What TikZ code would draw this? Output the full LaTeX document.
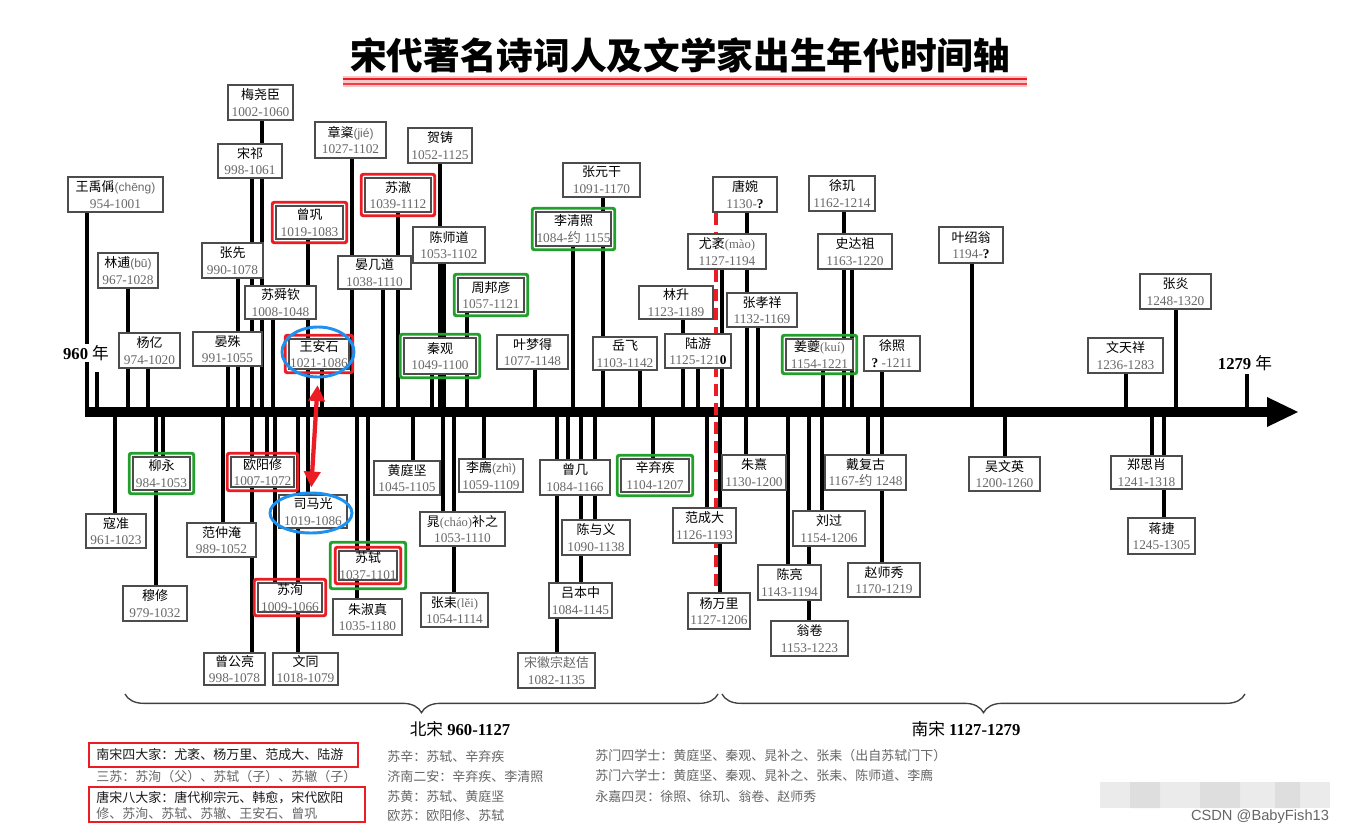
\documentclass[tikz,border=0pt]{standalone}
\usepackage{fontspec}
\setmainfont{Liberation Serif}
\newfontfamily\zhf{Noto Sans CJK SC}
\newfontfamily\sansf{Liberation Sans}
\usetikzlibrary{arrows.meta,shapes.geometric,decorations.pathreplacing}
\definecolor{fr}{RGB}{236,28,36}
\definecolor{fg}{RGB}{34,160,44}
\definecolor{fb}{RGB}{30,144,240}
\definecolor{dg}{RGB}{105,105,105}
\newcommand\zh[1]{{\zhf #1}}
\newcommand\dt[1]{{\rmfamily\fontsize{10}{12}\selectfont\color{dg}#1}}
\newcommand\py[1]{{\sansf\fontsize{9}{12}\selectfont\color{dg}#1}}
\newcommand\pys[1]{{\rmfamily\fontsize{9.5}{12}\selectfont\color{dg}#1}}
\newcommand\qm{{\bfseries\color{black}?}}
\newcommand\pbx[6]{\node[pbox, minimum width={(#4-#2)*0.75pt}, minimum height={(#5-#3)*0.75pt}] (#1) at ({(#2+#4)/2},{(#3+#5)/2}) {#6};}
\newcommand\stm[3]{\draw[stemline] (#1,#2) -- (#1,#3);}
\newcommand\frm[3]{\draw[#2] ([shift={(-#3,-#3)}]#1.north west) rectangle ([shift={(#3,#3)}]#1.south east);}
\tikzset{
  pbox/.style={draw=black!70, line width=1.1pt, fill=white, inner sep=0pt, align=center, font=\zhf\fontsize{9.75}{12.5}\selectfont},
  stemline/.style={line width=2.7pt, black},
  redframe/.style={draw=fr, line width=2.2pt, rounded corners=1.5pt},
  greenframe/.style={draw=fg, line width=2.2pt, rounded corners=1.5pt},
  blueell/.style={draw=fb, line width=2.2pt, ellipse, inner sep=0pt},
  redarr/.style={draw=fr, line width=3.2pt, {Triangle[width=12pt,length=12pt]}-{Triangle[width=12pt,length=12pt]}, shorten <=5pt, shorten >=3pt},
  legtxt/.style={anchor=west, inner sep=0pt, text=black!60, font=\zhf\fontsize{9.75}{12}\selectfont},
  legdark/.style={legtxt, text=black!90},
  bracestyle/.style={draw=black!75, line width=1pt, decorate, decoration={brace, mirror, amplitude=14pt}},
}
\begin{document}
\begin{tikzpicture}[x=0.75pt,y=-0.75pt]
\fill[white] (0,0) rectangle (1346,835);
\useasboundingbox (0,0) rectangle (1346,835);
% title
\fill[fr!25] (343,76) rectangle (1027,87);
\draw[fr, line width=1.6pt] (343,79) -- (1027,79);
\draw[fr!85, line width=1.6pt] (343,84) -- (1027,84);
\node (title) at (680,55) {\zhf\bfseries\fontsize{27.5}{30}\selectfont 宋代著名诗词人及文学家出生年代时间轴};
% stems above axis
\stm{87}{212}{412} \stm{128}{288}{412} \stm{148}{368}{412} \stm{97}{372}{412}
\stm{262}{120}{412} \stm{252}{178}{412} \stm{238}{278}{412} \stm{273}{319}{412}
\stm{228}{366}{412} \stm{308}{239}{412} \stm{322}{369}{412} \stm{352}{158}{412}
\stm{383}{289}{412} \stm{398}{212}{412} \stm{440}{163}{412} \stm{444}{263}{412}
\stm{432}{374}{412} \stm{467}{312}{412} \stm{535}{369}{412} \stm{573}{246}{412}
\stm{603}{197}{412} \stm{640}{370}{412} \stm{683}{319}{412} \stm{698}{368}{412}
\stm{722}{269}{412} \stm{747}{212}{412} \stm{758}{327}{412} \stm{823}{370}{412}
\stm{844}{211}{412} \stm{852}{269}{412} \stm{882}{371}{412} \stm{972}{263}{412}
\stm{1126}{373}{412} \stm{1176}{309}{412} \stm{1247}{374}{412}
% stems below axis
\stm{115}{412}{514} \stm{163}{412}{457} \stm{156}{412}{586} \stm{223}{412}{523}
\stm{267}{412}{457} \stm{252}{412}{653} \stm{275}{412}{583} \stm{308}{412}{495}
\stm{298}{412}{653} \stm{368}{412}{551} \stm{357}{412}{599} \stm{413}{412}{461}
\stm{443}{412}{512} \stm{454}{412}{593} \stm{484}{412}{459} \stm{568}{412}{460}
\stm{557}{412}{653} \stm{581}{412}{583} \stm{595}{412}{520} \stm{653}{412}{459}
\stm{707}{412}{508} \stm{720}{412}{593} \stm{746}{412}{455} \stm{788}{412}{565}
\stm{822}{412}{511} \stm{809}{412}{621} \stm{868}{412}{455} \stm{882}{412}{563}
\stm{1005}{412}{457} \stm{1152}{412}{456} \stm{1164}{412}{518}
% axis
\coordinate (axL) at (85,412);
\coordinate (axR) at (1298,412);
\draw[line width=7.5pt] (axL) -- (1270,412);
\fill (1267,397) -- (axR) -- (1267,427) -- cycle;
% dashed divider
\draw[fr, line width=2.6pt, dash pattern=on 9pt off 5.25pt] (716,213) -- (716,597);
% boxes above
\pbx{wyc}{68}{177}{163}{212}{王禹偁\py{(chēng)}\\\dt{954-1001}}
\pbx{lb}{98}{253}{158}{288}{林逋\py{(bū)}\\\dt{967-1028}}
\pbx{yy}{119}{333}{180}{368}{杨亿\\\dt{974-1020}}
\pbx{myc}{228}{85}{293}{120}{梅尧臣\\\dt{1002-1060}}
\pbx{sq}{218}{144}{282}{178}{宋祁\\\dt{998-1061}}
\pbx{zx}{202}{243}{263}{278}{张先\\\dt{990-1078}}
\pbx{ssq}{245}{286}{316}{319}{苏舜钦\\\dt{1008-1048}}
\pbx{ys}{193}{332}{262}{366}{晏殊\\\dt{991-1055}}
\pbx{zg}{276}{206}{343}{239}{曾巩\\\dt{1019-1083}}
\pbx{was}{289}{339}{349}{369}{王安石\\\dt{1021-1086}}
\pbx{zj}{315}{122}{386}{158}{章楶\py{(jié)}\\\dt{1027-1102}}
\pbx{yjd}{338}{256}{411}{289}{晏几道\\\dt{1038-1110}}
\pbx{sz}{365}{178}{431}{212}{苏澈\\\dt{1039-1112}}
\pbx{hz}{408}{128}{472}{163}{贺铸\\\dt{1052-1125}}
\pbx{csd}{413}{227}{485}{263}{陈师道\\\dt{1053-1102}}
\pbx{qg}{404}{338}{476}{374}{秦观\\\dt{1049-1100}}
\pbx{zby}{458}{278}{524}{312}{周邦彦\\\dt{1057-1121}}
\pbx{ymd}{497}{335}{568}{369}{叶梦得\\\dt{1077-1148}}
\pbx{lqz}{536}{212}{611}{246}{李清照\\\dt{1084-\zh{约} 1155}}
\pbx{zyg}{563}{163}{640}{197}{张元干\\\dt{1091-1170}}
\pbx{yf}{593}{337}{657}{370}{岳飞\\\dt{1103-1142}}
\pbx{ls}{639}{286}{713}{319}{林升\\\dt{1123-1189}}
\pbx{ly}{665}{334}{731}{368}{陆游\\\dt{1125-121{\bfseries\color{black}0}}}
\pbx{ym}{688}{234}{766}{269}{尤袤\pys{(mào)}\\\dt{1127-1194}}
\pbx{tw}{713}{177}{777}{212}{唐婉\\\dt{1130-\qm}}
\pbx{zxx}{727}{293}{797}{327}{张孝祥\\\dt{1132-1169}}
\pbx{jk}{786}{339}{853}{370}{姜夔\pys{(kuí)}\\\dt{1154-1221}}
\pbx{xj}{809}{176}{875}{211}{徐玑\\\dt{1162-1214}}
\pbx{sdz}{818}{234}{892}{269}{史达祖\\\dt{1163-1220}}
\pbx{xz}{864}{336}{920}{371}{徐照\\\dt{\qm\ -1211}}
\pbx{ysw}{939}{227}{1003}{263}{叶绍翁\\\dt{1194-\qm}}
\pbx{wtx}{1088}{338}{1163}{373}{文天祥\\\dt{1236-1283}}
\pbx{zy}{1140}{274}{1211}{309}{张炎\\\dt{1248-1320}}
% boxes below
\pbx{kz}{86}{514}{146}{548}{寇准\\\dt{961-1023}}
\pbx{liuy}{133}{457}{190}{490}{柳永\\\dt{984-1053}}
\pbx{mx}{123}{586}{187}{621}{穆修\\\dt{979-1032}}
\pbx{fzy}{187}{523}{256}{557}{范仲淹\\\dt{989-1052}}
\pbx{oyx}{231}{457}{294}{487}{欧阳修\\\dt{1007-1072}}
\pbx{zgl}{204}{653}{265}{685}{曾公亮\\\dt{998-1078}}
\pbx{sx}{258}{583}{322}{612}{苏洵\\\dt{1009-1066}}
\pbx{smg}{279}{495}{347}{528}{司马光\\\dt{1019-1086}}
\pbx{wt}{273}{653}{338}{685}{文同\\\dt{1018-1079}}
\pbx{ss}{339}{551}{397}{580}{苏轼\\\dt{1037-1101}}
\pbx{zsz}{333}{599}{402}{635}{朱淑真\\\dt{1035-1180}}
\pbx{htj}{374}{461}{440}{495}{黄庭坚\\\dt{1045-1105}}
\pbx{cbz}{420}{512}{505}{546}{晁\pys{(cháo)}补之\\\dt{1053-1110}}
\pbx{zl}{421}{593}{488}{627}{张耒\pys{(lěi)}\\\dt{1054-1114}}
\pbx{lz}{459}{459}{523}{492}{李廌\py{(zhì)}\\\dt{1059-1109}}
\pbx{zjj}{540}{460}{610}{495}{曾几\\\dt{1084-1166}}
\pbx{hzz}{518}{653}{595}{688}{{\color{dg}宋徽宗赵佶}\\\dt{1082-1135}}
\pbx{lbz}{549}{583}{612}{618}{吕本中\\\dt{1084-1145}}
\pbx{cyy}{562}{520}{630}{555}{陈与义\\\dt{1090-1138}}
\pbx{xqj}{621}{459}{689}{492}{辛弃疾\\\dt{1104-1207}}
\pbx{fcd}{673}{508}{736}{543}{范成大\\\dt{1126-1193}}
\pbx{ywl}{688}{593}{750}{629}{杨万里\\\dt{1127-1206}}
\pbx{zhx}{722}{455}{786}{490}{朱熹\\\dt{1130-1200}}
\pbx{cl}{758}{565}{821}{600}{陈亮\\\dt{1143-1194}}
\pbx{lg}{793}{511}{865}{546}{刘过\\\dt{1154-1206}}
\pbx{wj}{771}{621}{848}{656}{翁卷\\\dt{1153-1223}}
\pbx{dfg}{825}{455}{906}{490}{戴复古\\\dt{1167-\zh{约} 1248}}
\pbx{zsx}{848}{563}{920}{597}{赵师秀\\\dt{1170-1219}}
\pbx{wwy}{969}{457}{1040}{491}{吴文英\\\dt{1200-1260}}
\pbx{zsxx}{1111}{456}{1182}{489}{郑思肖\\\dt{1241-1318}}
\pbx{jj}{1128}{518}{1195}{554}{蒋捷\\\dt{1245-1305}}
% frames
\frm{zg}{redframe}{3} \frm{was}{redframe}{3} \frm{sz}{redframe}{3}
\frm{oyx}{redframe}{3} \frm{sx}{redframe}{3} \frm{ss}{redframe}{3}
\frm{ss}{greenframe}{8}
\frm{qg}{greenframe}{3} \frm{zby}{greenframe}{3} \frm{lqz}{greenframe}{3}
\frm{jk}{greenframe}{3} \frm{liuy}{greenframe}{3} \frm{xqj}{greenframe}{3}
% ellipses and arrow
\node[blueell, minimum width=72*0.75pt, minimum height=50*0.75pt] (e1) at (318,352) {};
\node[blueell, minimum width=82*0.75pt, minimum height=40*0.75pt] (e2) at (311,513) {};
\draw[redarr] (e1.south) -- (e2.north);
% year labels
\node[fill=white, inner sep=1pt, font=\fontsize{12.5}{14}\selectfont] (y960) at (86,353) {\textbf{960} \zh{年}};
\node[inner sep=1pt, font=\fontsize{12.5}{14}\selectfont] (y1279) at (1245,363) {\textbf{1279} \zh{年}};
% braces
\draw[bracestyle] (125,694) -- (718,694);
\draw[bracestyle] (722,694) -- (1245,694);
\node[font=\fontsize{12.5}{14}\selectfont] (bs) at (460,729) {\zh{北宋} \textbf{960-1127}};
\node[font=\fontsize{12.5}{14}\selectfont] (ns) at (966,729) {\zh{南宋} \textbf{1127-1279}};
% legend
\draw[fr, line width=2pt] (89,743) rectangle (358,767);
\draw[fr, line width=2pt] (89,787) rectangle (365,822);
\node[legdark] (l1) at (96,755) {南宋四大家：尤袤、杨万里、范成大、陆游};
\node[legtxt] (l2) at (96,777) {三苏：苏洵（父）、苏轼（子）、苏辙（子）};
\node[legdark] (l3) at (96,798) {唐宋八大家：唐代柳宗元、韩愈，宋代欧阳};
\node[legtxt] (l4) at (96,814) {修、苏洵、苏轼、苏辙、王安石、曾巩};
\node[legtxt] (m1) at (387,757) {苏辛：苏轼、辛弃疾};
\node[legtxt] (m2) at (387,777) {济南二安：辛弃疾、李清照};
\node[legtxt] (m3) at (387,797) {苏黄：苏轼、黄庭坚};
\node[legtxt] (m4) at (387,816) {欧苏：欧阳修、苏轼};
\node[legtxt] (r1) at (595,756) {苏门四学士：黄庭坚、秦观、晁补之、张耒（出自苏轼门下）};
\node[legtxt] (r2) at (595,776) {苏门六学士：黄庭坚、秦观、晁补之、张耒、陈师道、李廌};
\node[legtxt] (r3) at (595,797) {永嘉四灵：徐照、徐玑、翁卷、赵师秀};
% watermark
\fill[black!8] (1100,782) rectangle (1330,808);
\fill[black!13] (1130,782) rectangle (1160,808) (1200,782) rectangle (1240,808) (1275,782) rectangle (1300,808);
\node[font=\sansf\fontsize{11}{13}\selectfont, text=black!60] (wm) at (1260,817) {CSDN @BabyFish13};
\end{tikzpicture}
\end{document}
